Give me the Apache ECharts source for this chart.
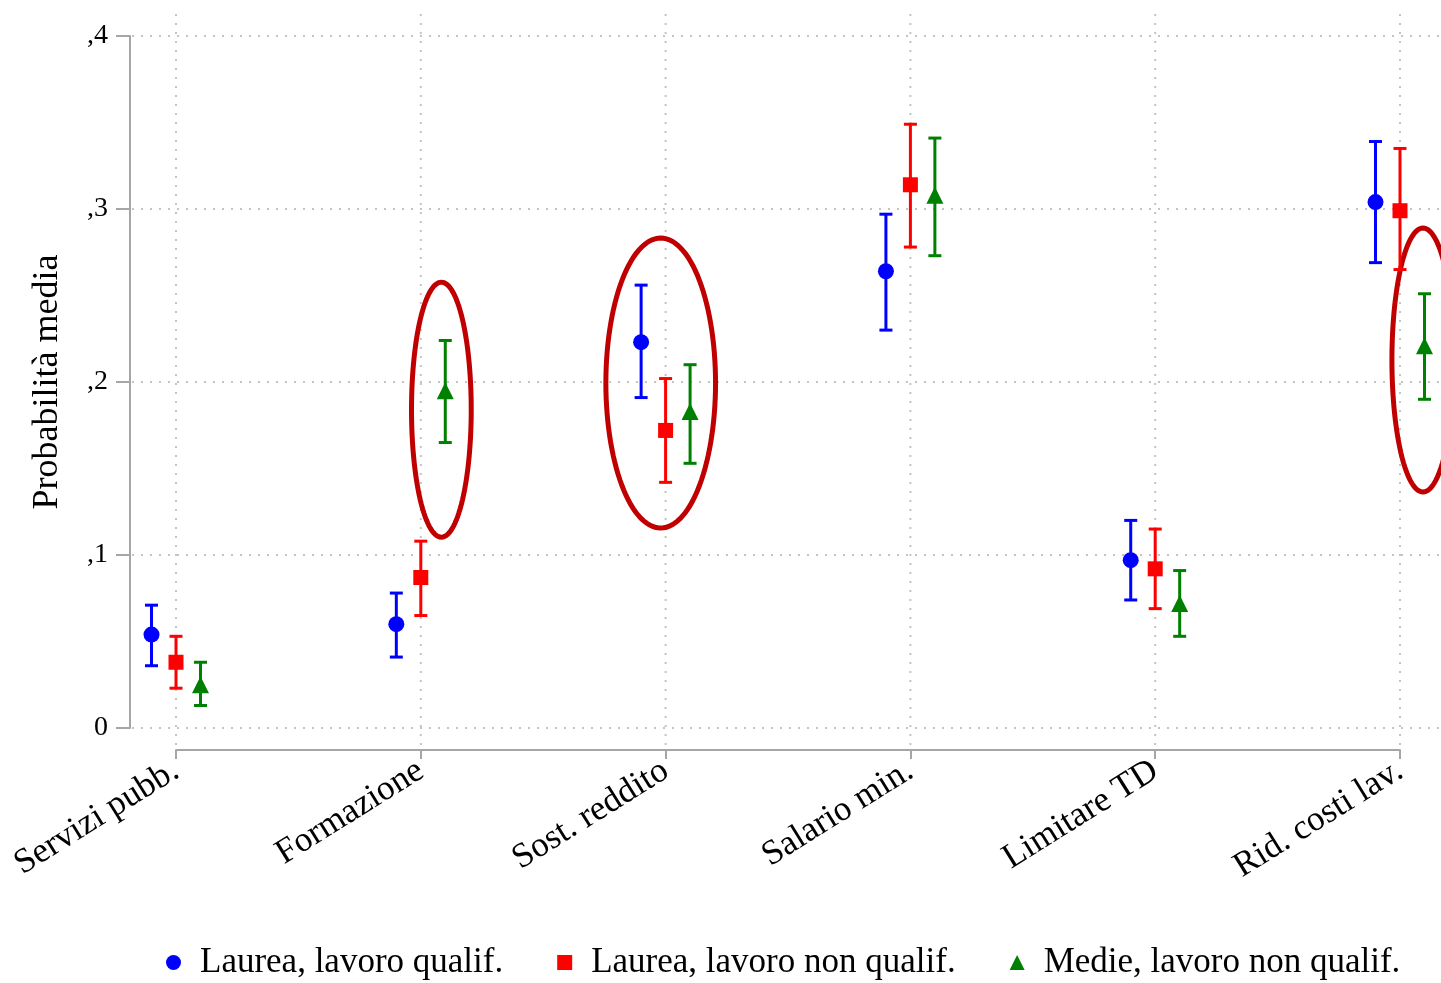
<!DOCTYPE html>
<html><head><meta charset="utf-8">
<script src="https://cdn.jsdelivr.net/npm/echarts@6/dist/echarts.min.js"></script>
<style>html,body{margin:0;padding:0;background:#fff}#c{width:1441px;height:983px}</style>
</head><body><div id="c"></div>
<script>
const categories = ['Servizi pubb.', 'Formazione', 'Sost. reddito', 'Salario min.', 'Limitare TD', 'Rid. costi lav.'];
const seriesNames = ['Laurea, lavoro qualif.', 'Laurea, lavoro non qualif.', 'Medie, lavoro non qualif.'];

const meanLQ  = [0.054, 0.060, 0.223, 0.264, 0.097, 0.304];
const lowLQ   = [0.036, 0.041, 0.191, 0.230, 0.074, 0.269];
const highLQ  = [0.071, 0.078, 0.256, 0.297, 0.120, 0.339];

const meanLNQ = [0.038, 0.087, 0.172, 0.314, 0.092, 0.299];
const lowLNQ  = [0.023, 0.065, 0.142, 0.278, 0.069, 0.265];
const highLNQ = [0.053, 0.108, 0.202, 0.349, 0.115, 0.335];

const meanMNQ = [0.025, 0.195, 0.183, 0.308, 0.072, 0.221];
const lowMNQ  = [0.013, 0.165, 0.153, 0.273, 0.053, 0.190];
const highMNQ = [0.038, 0.224, 0.210, 0.341, 0.091, 0.251];

const yTicks = [0, 0.1, 0.2, 0.3, 0.4];
const yTickLabels = ['0', ',1', ',2', ',3', ',4'];

// annotation ellipses: [centre (category units), centre (probability), radius (category units), radius (probability)]
const ellipseCx = [2.084, 2.980, 6.094];
const ellipseCy = [0.184, 0.1994, 0.2127];
const ellipseRx = [0.122, 0.224, 0.127];
const ellipseRy = [0.0737, 0.0838, 0.0763];

const colors = ['#0000ff', '#ff0000', '#008000'];
const symbols = ['circle', 'rect', 'triangle'];
const symbolSizes = [16, 15, 17];
const offsets = [-0.1, 0, 0.1];
const FONT = '"Liberation Serif", "Times New Roman", serif';

const groups = [
  {mean: meanLQ, low: lowLQ, high: highLQ},
  {mean: meanLNQ, low: lowLNQ, high: highLNQ},
  {mean: meanMNQ, low: lowMNQ, high: highMNQ}
];

const chart = echarts.init(document.getElementById('c'), null, {renderer: 'canvas'});

const series = [];

// dotted gridlines
series.push({
  type: 'custom', name: 'grid', silent: true, clip: false, z: 0,
  data: [0],
  renderItem: function (params, api) {
    const cs = params.coordSys;
    const children = [];
    const style = {stroke: '#c4c4c4', lineWidth: 2, lineDash: [2, 7]};
    yTicks.forEach(function (v) {
      const p = api.coord([1, v]);
      children.push({type: 'line', shape: {x1: cs.x - 44, y1: p[1], x2: 1441, y2: p[1]}, style: style});
    });
    categories.forEach(function (c, i) {
      const p = api.coord([i + 1, 0]);
      children.push({type: 'line', shape: {x1: p[0], y1: cs.y - 22, x2: p[0], y2: cs.y + cs.height + 20}, style: style});
    });
    return {type: 'group', children: children};
  }
});

// ellipses
series.push({
  type: 'custom', name: 'ellipses', silent: true, clip: false, z: 1,
  data: ellipseCx.map(function (cx, i) { return [cx, ellipseCy[i], ellipseRx[i], ellipseRy[i]]; }),
  renderItem: function (params, api) {
    const cx = api.value(0), cy = api.value(1), rx = api.value(2), ry = api.value(3);
    const pts = [];
    for (let k = 0; k < 120; k++) {
      const t = k / 120 * Math.PI * 2;
      pts.push(api.coord([cx + rx * Math.cos(t), cy + ry * Math.sin(t)]));
    }
    return {type: 'polygon', shape: {points: pts}, style: {fill: 'none', stroke: '#c00000', lineWidth: 5}};
  }
});

groups.forEach(function (g, s) {
  // error bars
  series.push({
    type: 'custom', name: seriesNames[s] + ' CI', silent: true, clip: false, z: 2,
    data: categories.map(function (c, i) { return [i + 1 + offsets[s], g.low[i], g.high[i]]; }),
    renderItem: function (params, api) {
      const lo = api.coord([api.value(0), api.value(1)]);
      const hi = api.coord([api.value(0), api.value(2)]);
      const w = 6.5;
      const st = {stroke: colors[s], lineWidth: 3};
      return {type: 'group', children: [
        {type: 'line', shape: {x1: lo[0], y1: lo[1], x2: hi[0], y2: hi[1]}, style: st},
        {type: 'line', shape: {x1: lo[0] - w, y1: lo[1], x2: lo[0] + w, y2: lo[1]}, style: st},
        {type: 'line', shape: {x1: hi[0] - w, y1: hi[1], x2: hi[0] + w, y2: hi[1]}, style: st}
      ]};
    }
  });
  series.push({
    type: 'scatter', name: seriesNames[s], z: 3, clip: false,
    symbol: symbols[s], symbolSize: symbolSizes[s],
    itemStyle: {color: colors[s], opacity: 1},
    data: categories.map(function (c, i) { return [i + 1 + offsets[s], g.mean[i]]; })
  });
});

const option = {
  animation: false,
  backgroundColor: '#ffffff',
  grid: {left: 176, right: 41, top: 36, bottom: 255, containLabel: false},
  xAxis: {
    type: 'value', min: 1, max: 6, interval: 1, offset: 22,
    axisLine: {show: true, onZero: false, lineStyle: {color: '#a6a6a6', width: 2}},
    axisTick: {show: true, length: 9, lineStyle: {color: '#a6a6a6', width: 2}},
    splitLine: {show: false},
    axisLabel: {
      rotate: 32, margin: 18, color: '#000', fontFamily: FONT, fontSize: 35,
      formatter: function (v) { return categories[Math.round(v) - 1] || ''; }
    }
  },
  yAxis: {
    type: 'value', min: 0, max: 0.4, interval: 0.1, offset: 46,
    name: 'Probabilità media', nameLocation: 'middle', nameGap: 64,
    nameTextStyle: {color: '#000', fontFamily: FONT, fontSize: 36},
    axisLine: {show: true, onZero: false, lineStyle: {color: '#a6a6a6', width: 2}},
    axisTick: {show: true, length: 14, lineStyle: {color: '#a6a6a6', width: 2}},
    splitLine: {show: false},
    axisLabel: {
      margin: 22, color: '#000', fontFamily: FONT, fontSize: 28,
      formatter: function (v) {
        const idx = yTicks.findIndex(function (t) { return Math.abs(t - v) < 1e-9; });
        return idx >= 0 ? yTickLabels[idx] : '';
      }
    }
  },
  legend: {
    data: seriesNames.map(function (n, i) { return {name: n, icon: symbols[i]}; }),
    left: 166, top: 945, orient: 'horizontal', padding: 0,
    itemWidth: 15, itemHeight: 15, itemGap: 54,
    textStyle: {color: '#000', fontFamily: FONT, fontSize: 35, padding: [0, 0, 0, 14]}
  },
  series: series
};
chart.setOption(option);
</script>
</body></html>
